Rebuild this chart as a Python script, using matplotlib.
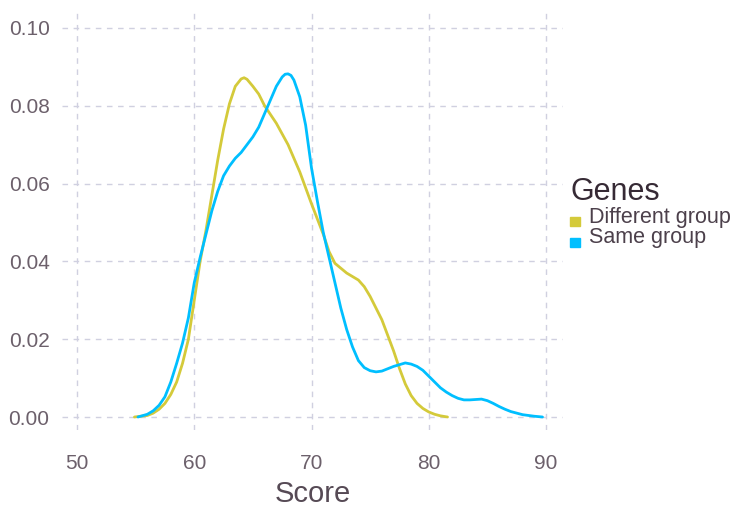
import matplotlib
matplotlib.use("Agg")
import matplotlib.pyplot as plt
from matplotlib.patches import Rectangle

# ---- data (density estimates) ----
diff_x = [54.9, 56, 56.5, 57, 57.5, 58, 58.5, 59, 59.5, 60, 60.5, 61, 61.5, 62,
          62.5, 63, 63.5, 64, 64.25, 64.5, 65, 65.5, 66, 67, 68, 69, 70, 71,
          71.5, 72, 73, 74, 74.5, 75, 75.5, 76, 76.5, 77, 77.5, 78, 78.5, 79,
          79.5, 80, 80.5, 81, 81.6]
diff_y = [0.0, 0.0004, 0.001, 0.002, 0.0035, 0.0058, 0.009, 0.0138, 0.020, 0.030,
          0.040, 0.048, 0.057, 0.066, 0.074, 0.0805, 0.085, 0.0869, 0.0872,
          0.0868, 0.085, 0.083, 0.080, 0.0755, 0.070, 0.063, 0.0548, 0.047,
          0.0425, 0.0395, 0.037, 0.0352, 0.0335, 0.031, 0.028, 0.025, 0.021,
          0.017, 0.0125, 0.0085, 0.0055, 0.0035, 0.0022, 0.0013, 0.0007,
          0.0003, 0.0]

same_x = [55.2, 56, 56.5, 57, 57.5, 58, 58.5, 59, 59.5, 60, 60.5, 61, 61.5, 62,
          62.5, 63, 63.5, 64, 64.5, 65, 65.5, 66, 66.5, 67, 67.5, 67.75, 68,
          68.25, 68.5, 69, 69.5, 70, 70.5, 71, 71.5, 72, 72.5, 73, 73.5, 74,
          74.5, 75, 75.5, 76, 77, 78, 78.5, 79, 79.5, 80, 80.5, 81, 81.5, 82,
          82.5, 83, 83.5, 84, 84.5, 85, 85.5, 86, 86.5, 87, 88, 89, 89.7]
same_y = [0.0, 0.0007, 0.0016, 0.003, 0.0052, 0.009, 0.0138, 0.019, 0.0255,
          0.0345, 0.041, 0.047, 0.053, 0.058, 0.062, 0.0645, 0.0665, 0.068, 0.070,
          0.072, 0.0745, 0.078, 0.0815, 0.085, 0.0874, 0.0881, 0.0882, 0.0878,
          0.0866, 0.0823, 0.075, 0.064, 0.0555, 0.0475, 0.041, 0.0345, 0.028,
          0.0225, 0.018, 0.0145, 0.0127, 0.0119, 0.0116, 0.0118, 0.0130, 0.0139,
          0.0136, 0.0130, 0.0120, 0.0105, 0.009, 0.0075, 0.0064, 0.0055, 0.0048,
          0.0044, 0.0044, 0.0045, 0.0046, 0.0042, 0.0035, 0.0027, 0.002, 0.0014,
          0.0006, 0.0002, 0.0]

series_labels = ["Different group", "Same group"]
series_colors = ["#D4CA3A", "#00BFFF"]
legend_title = "Genes"
x_label = "Score"
x_ticks = [50, 60, 70, 80, 90]
y_ticks = [0.00, 0.02, 0.04, 0.06, 0.08, 0.10]

# ---- figure ----
W, H = 733, 507
fig = plt.figure(figsize=(W / 100, H / 100), dpi=100)
plt.rcParams['font.family'] = ['Liberation Sans', 'DejaVu Sans']

left, right, top, bottom = 62, 563, 12, 430
ax = fig.add_axes([left / W, 1 - bottom / H, (right - left) / W, (bottom - top) / H])

grid_col = "#D0D0E0"
for xt in x_ticks:
    ax.axvline(xt, color=grid_col, lw=1.0, ls=(0, (4, 4)), zorder=0)
for yt in y_ticks:
    ax.axhline(yt, color=grid_col, lw=1.0, ls=(0, (4, 4)), zorder=0)

ax.plot(diff_x, diff_y, color=series_colors[0], lw=2.0, solid_capstyle='round',
        solid_joinstyle='round')
ax.plot(same_x, same_y, color=series_colors[1], lw=2.0, solid_capstyle='round',
        solid_joinstyle='round')

ax.set_xlim(48.72, 91.45)
ax.set_ylim(-0.00334, 0.1041)
ax.set_xticks(x_ticks)
ax.set_yticks(y_ticks)
ax.set_xticklabels([str(v) for v in x_ticks])
ax.set_yticklabels(["%.2f" % v for v in y_ticks])
ax.tick_params(length=0, labelsize=15, labelcolor="#6c606b")
ax.tick_params(axis='x', pad=17)
ax.tick_params(axis='y', pad=9)
for s in ax.spines.values():
    s.set_visible(False)

fig.text(312.5 / W, 1 - 502 / H, x_label, ha='center', va='baseline',
         fontsize=21, color="#564a55")

# legend
fig.text(571 / W, 1 - 200 / H, legend_title, ha='left', va='baseline',
         fontsize=22, color="#362a35")
baselines = [222.5, 243.5]
for lab, col, bl in zip(series_labels, series_colors, baselines):
    fig.patches.append(Rectangle((570 / W, 1 - (bl + 3.5) / H), 9.5 / W, 9.5 / H,
                                 transform=fig.transFigure, color=col))
    fig.text(589 / W, 1 - bl / H, lab, ha='left', va='baseline',
             fontsize=15.5, color="#4c404b")

fig.savefig("out.png", dpi=100, facecolor="white")
